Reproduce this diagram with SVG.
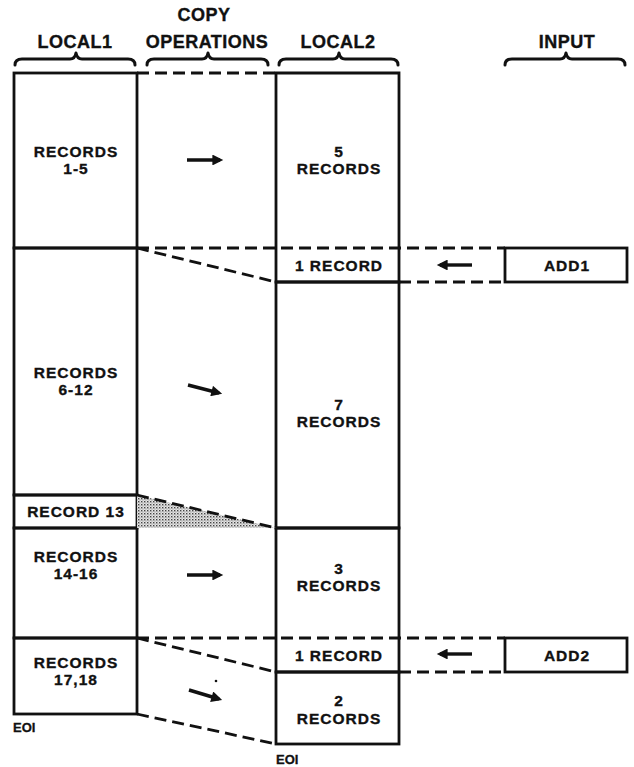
<svg xmlns="http://www.w3.org/2000/svg" width="634" height="767" viewBox="0 0 634 767">
<style>
  .bx{fill:none;stroke:#111;stroke-width:2.8;stroke-linejoin:miter}
  .ds{fill:none;stroke:#111;stroke-width:2.8;stroke-dasharray:12 6}
  .br{fill:none;stroke:#111;stroke-width:3;stroke-linecap:round;stroke-linejoin:round}
  .hd{font-family:"Liberation Sans",Arial,sans-serif;font-weight:bold;font-size:18px;letter-spacing:0.5px;fill:#111;stroke:#111;stroke-width:0.35;text-anchor:middle}
  .t{font-family:"Liberation Sans",Arial,sans-serif;font-weight:bold;font-size:15.5px;letter-spacing:1px;fill:#111;stroke:#111;stroke-width:0.35;text-anchor:middle}
  .e{font-family:"Liberation Sans",Arial,sans-serif;font-weight:bold;font-size:13px;fill:#111;stroke:#111;stroke-width:0.3}
  .ar{fill:none;stroke:#111;stroke-width:3.4}
</style>
<defs>
  <marker id="ah" viewBox="0 0 10 10" refX="7" refY="5" markerWidth="4" markerHeight="3.2" orient="auto" markerUnits="strokeWidth">
    <path d="M0,0 L10,5 L0,10 Z" fill="#111"/>
  </marker>
  <pattern id="dots" width="3" height="3" patternUnits="userSpaceOnUse">
    <rect width="3" height="3" fill="#e6e6e6"/>
    <rect x="0" y="0" width="1.4" height="1.4" fill="#444"/>
    <rect x="1.5" y="1.5" width="1" height="1" fill="#777"/>
  </pattern>
</defs>
<rect width="634" height="767" fill="#fff"/>

<g id="headers">
  <text class="hd" x="204" y="21">COPY</text>
  <text class="hd" x="75" y="48">LOCAL1</text>
  <text class="hd" x="207" y="48">OPERATIONS</text>
  <text class="hd" x="338" y="48">LOCAL2</text>
  <text class="hd" x="567" y="48">INPUT</text>
  <path class="br" d="M15,65 Q15,59 22,59 L70,59 Q75,59 76,53 Q77,59 82,59 L128,59 Q135,59 135,65"/>
  <path class="br" d="M147,65 Q147,59 154,59 L202,59 Q207,59 208,53 Q209,59 214,59 L261,59 Q268,59 268,65"/>
  <path class="br" d="M279,65 Q279,59 286,59 L333,59 Q338,59 339,53 Q340,59 345,59 L391,59 Q398,59 398,65"/>
  <path class="br" d="M505,65 Q505,59 512,59 L560,59 Q565,59 566,53 Q567,59 572,59 L618,59 Q625,59 625,65"/>
</g>

<g id="local1-records-1-5">
  <rect class="bx" x="14" y="73" width="123" height="175"/>
  <text class="t" x="76" y="157">RECORDS</text>
  <text class="t" x="76" y="174">1-5</text>
</g>
<g id="local1-records-6-12">
  <rect class="bx" x="14" y="248" width="123" height="247"/>
  <text class="t" x="76" y="378">RECORDS</text>
  <text class="t" x="76" y="395">6-12</text>
</g>
<g id="local1-record-13">
  <rect class="bx" x="14" y="495" width="123" height="33"/>
  <text class="t" x="76" y="517">RECORD 13</text>
</g>
<g id="local1-records-14-16">
  <rect class="bx" x="14" y="528" width="123" height="110"/>
  <text class="t" x="76" y="562">RECORDS</text>
  <text class="t" x="76" y="579">14-16</text>
</g>
<g id="local1-records-17-18">
  <rect class="bx" x="14" y="638" width="123" height="76"/>
  <text class="t" x="76" y="668">RECORDS</text>
  <text class="t" x="76" y="685">17,18</text>
  <text class="e" x="13" y="732">EOI</text>
</g>

<g id="local2-5-records">
  <path class="bx" d="M276,248 L276,73 L399,73 L399,248"/>
  <text class="t" x="339" y="157">5</text>
  <text class="t" x="339" y="174">RECORDS</text>
</g>
<g id="local2-1-record-a">
  <path class="bx" d="M276,248 L276,282 L399,282 L399,248"/>
  <text class="t" x="339" y="271">1 RECORD</text>
</g>
<g id="local2-7-records">
  <rect class="bx" x="276" y="282" width="123" height="246"/>
  <text class="t" x="339" y="410">7</text>
  <text class="t" x="339" y="427">RECORDS</text>
</g>
<g id="local2-3-records">
  <path class="bx" d="M276,638 L276,528 L399,528 L399,638"/>
  <text class="t" x="339" y="574">3</text>
  <text class="t" x="339" y="591">RECORDS</text>
</g>
<g id="local2-1-record-b">
  <path class="bx" d="M276,638 L276,672 L399,672 L399,638"/>
  <text class="t" x="339" y="661">1 RECORD</text>
</g>
<g id="local2-2-records">
  <rect class="bx" x="276" y="672" width="123" height="72"/>
  <text class="t" x="339" y="706">2</text>
  <text class="t" x="339" y="724">RECORDS</text>
  <text class="e" x="276" y="764">EOI</text>
</g>

<g id="input-add1">
  <rect class="bx" x="505" y="248" width="122" height="34"/>
  <text class="t" x="567" y="271">ADD1</text>
</g>
<g id="input-add2">
  <rect class="bx" x="505" y="638" width="122" height="34"/>
  <text class="t" x="567" y="661">ADD2</text>
</g>

<g id="connectors">
  <path d="M137,495 L276,528 L137,528 Z" fill="url(#dots)"/>
  <path class="ds" d="M137,73 L276,73"/>
  <path class="ds" d="M137,248 L505,248"/>
  <path class="ds" d="M137,248 L276,282"/>
  <path class="ds" d="M399,282 L505,282"/>
  <path class="ds" d="M137,495 L276,528"/>
  <path class="ds" d="M137,638 L505,638"/>
  <path class="ds" d="M137,638 L276,672"/>
  <path class="ds" d="M399,672 L505,672"/>
  <path class="ds" d="M137,714 L276,744"/>
  <line class="ar" x1="187" y1="160" x2="220" y2="160" marker-end="url(#ah)"/>
  <line class="ar" x1="188" y1="385" x2="219" y2="393" marker-end="url(#ah)"/>
  <line class="ar" x1="187" y1="575" x2="220" y2="575" marker-end="url(#ah)"/>
  <line class="ar" x1="189" y1="690" x2="219" y2="699" marker-end="url(#ah)"/>
  <circle cx="216" cy="681" r="1.3" fill="#111"/>
  <line class="ar" x1="472" y1="265" x2="440" y2="265" marker-end="url(#ah)"/>
  <line class="ar" x1="472" y1="654" x2="440" y2="654" marker-end="url(#ah)"/>
</g>
</svg>
